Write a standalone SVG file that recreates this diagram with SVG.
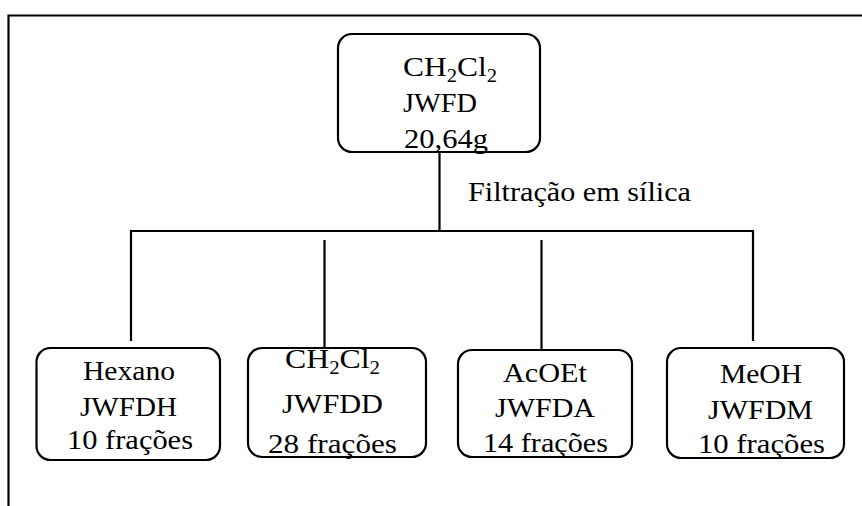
<svg xmlns="http://www.w3.org/2000/svg" width="862" height="506" viewBox="0 0 862 506">
<style>
.box{fill:#fff;stroke:#000;stroke-width:2.2}
.ln{fill:none;stroke:#000;stroke-width:2.2}
text{font-family:"Liberation Serif","Times New Roman",serif;font-size:27.5px;fill:#000}
.sub{font-size:18px}
</style>
<rect width="862" height="506" fill="#fff"/>
<path class="ln" d="M8.5,506 V15.5 H862"/>
<g id="connectors">
<path class="ln" d="M439.5,152 V231"/>
<path class="ln" d="M131,341 V231 H753 V341"/>
<path class="ln" d="M324.5,240 V348"/>
<path class="ln" d="M541.5,240 V350"/>
</g>
<text x="468" y="201" textLength="223" lengthAdjust="spacingAndGlyphs">Filtração em sílica</text>
<g id="top">
<rect class="box" x="338" y="34" width="202" height="118" rx="14"/>
<text x="403" y="76" textLength="94" lengthAdjust="spacingAndGlyphs">CH<tspan class="sub" dy="6">2</tspan><tspan dy="-6">Cl</tspan><tspan class="sub" dy="6">2</tspan></text>
<text x="403" y="112" textLength="74" lengthAdjust="spacingAndGlyphs">JWFD</text>
<text x="404" y="148" textLength="84" lengthAdjust="spacingAndGlyphs">20,64g</text>
</g>
<g id="hexano">
<rect class="box" x="36.5" y="348" width="183.5" height="112" rx="14"/>
<text x="83" y="380" textLength="92" lengthAdjust="spacingAndGlyphs">Hexano</text>
<text x="80" y="416" textLength="97" lengthAdjust="spacingAndGlyphs">JWFDH</text>
<text x="67" y="449" textLength="126" lengthAdjust="spacingAndGlyphs">10 frações</text>
</g>
<g id="ch2cl2">
<rect class="box" x="248" y="348" width="178" height="109" rx="14"/>
<text x="285" y="368" textLength="95" lengthAdjust="spacingAndGlyphs">CH<tspan class="sub" dy="6">2</tspan><tspan dy="-6">Cl</tspan><tspan class="sub" dy="6">2</tspan></text>
<text x="282" y="413" textLength="101" lengthAdjust="spacingAndGlyphs">JWFDD</text>
<text x="268" y="453" textLength="129" lengthAdjust="spacingAndGlyphs">28 frações</text>
</g>
<g id="acoet">
<rect class="box" x="458" y="350" width="174" height="107" rx="14"/>
<text x="503" y="382" textLength="84" lengthAdjust="spacingAndGlyphs">AcOEt</text>
<text x="495" y="417" textLength="100" lengthAdjust="spacingAndGlyphs">JWFDA</text>
<text x="483" y="452" textLength="125" lengthAdjust="spacingAndGlyphs">14 frações</text>
</g>
<g id="meoh">
<rect class="box" x="667" y="348" width="177" height="110" rx="14"/>
<text x="720" y="383" textLength="82" lengthAdjust="spacingAndGlyphs">MeOH</text>
<text x="708" y="419" textLength="105" lengthAdjust="spacingAndGlyphs">JWFDM</text>
<text x="698" y="453" textLength="127" lengthAdjust="spacingAndGlyphs">10 frações</text>
</g>
</svg>
